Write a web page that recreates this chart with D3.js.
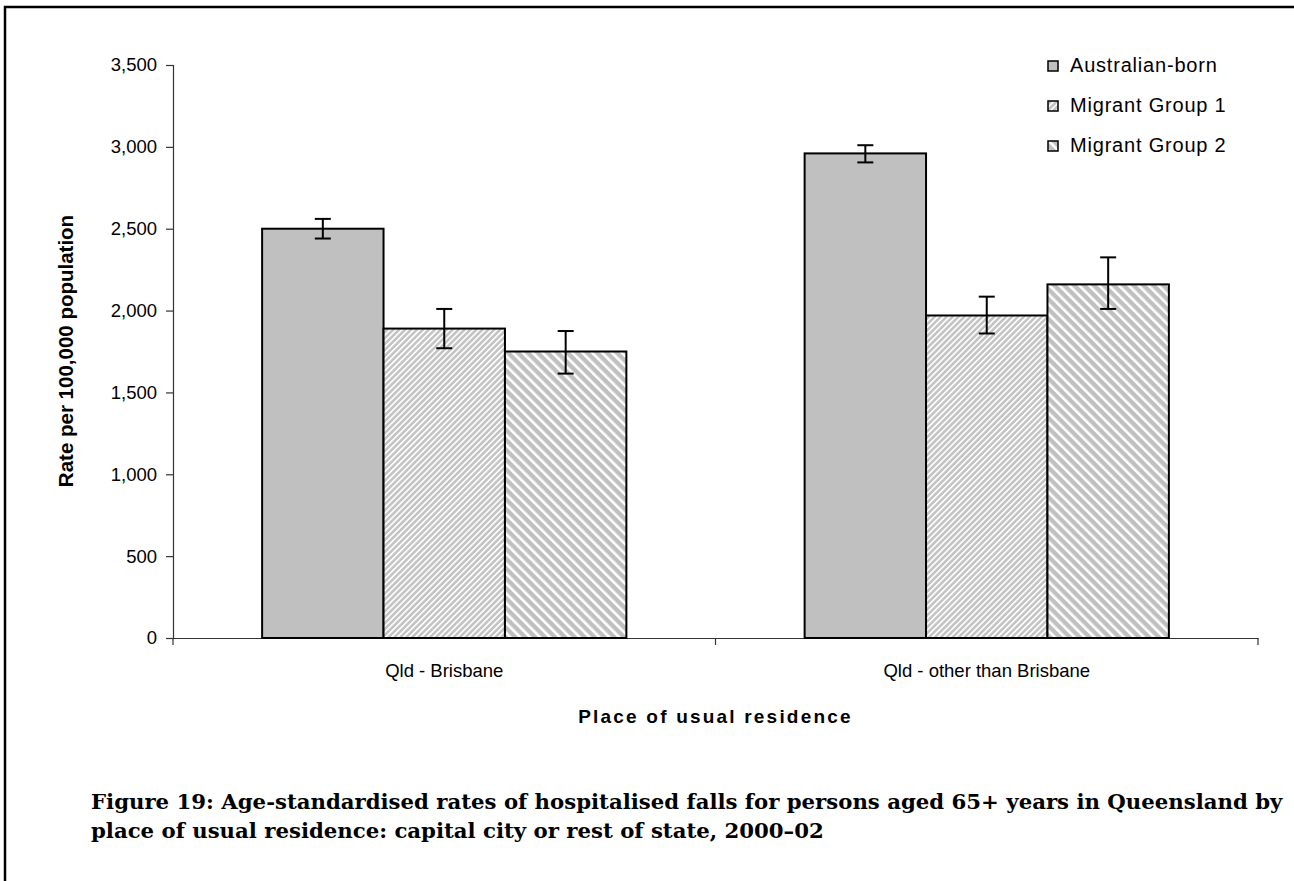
<!DOCTYPE html>
<html>
<head>
<meta charset="utf-8">
<script src="https://cdn.jsdelivr.net/npm/d3@7"></script>
<style>
  html, body { margin: 0; padding: 0; background: #fff; }
  svg { display: block; }
</style>
</head>
<body>
<svg id="chart" width="1294" height="881"></svg>
<script>
// Places of usual residence (x categories)
const categories = ["Qld - Brisbane", "Qld - other than Brisbane"];
// Population groups (series)
const seriesNames = ["Australian-born", "Migrant Group 1", "Migrant Group 2"];

// Age-standardised rates per 100,000 with 95% confidence limits
const australianBorn      = [2500, 2960];
const australianBornLow   = [2440, 2905];
const australianBornHigh  = [2560, 3010];

const migrantGroup1       = [1890, 1970];
const migrantGroup1Low    = [1770, 1860];
const migrantGroup1High   = [2010, 2085];

const migrantGroup2       = [1750, 2160];
const migrantGroup2Low    = [1615, 2010];
const migrantGroup2High   = [1875, 2325];

const yTicks = [0, 500, 1000, 1500, 2000, 2500, 3000, 3500];

const captionLines = [
  "Figure 19: Age-standardised rates of hospitalised falls for persons aged 65+ years in Queensland by",
  "place of usual residence: capital city or rest of state, 2000\u201302"
];

const series = [
  { name: seriesNames[0], values: australianBorn, low: australianBornLow, high: australianBornHigh, fill: "#c0c0c0" },
  { name: seriesNames[1], values: migrantGroup1, low: migrantGroup1Low, high: migrantGroup1High, fill: "url(#hatchUp)" },
  { name: seriesNames[2], values: migrantGroup2, low: migrantGroup2Low, high: migrantGroup2High, fill: "url(#hatchDown)" }
];

const svg = d3.select("#chart");
const sans = "'Liberation Sans', Arial, sans-serif";

// Hatch fills
const defs = svg.append("defs");
function hatch(id, period, white, angle, grey) {
  const p = defs.append("pattern")
    .attr("id", id)
    .attr("patternUnits", "userSpaceOnUse")
    .attr("width", period).attr("height", period)
    .attr("patternTransform", `rotate(${angle})`);
  p.append("rect").attr("width", period).attr("height", period).attr("fill", grey);
  p.append("rect").attr("x", 0).attr("y", 0).attr("width", white).attr("height", period).attr("fill", "#ffffff");
}
hatch("hatchUp", 4.2, 1.6, 45, "#c4c4c4");
hatch("hatchDown", 7.0, 2.6, -45, "#c0c0c0");

// Plot area
const plot = { left: 173, right: 1258, top: 65, bottom: 638 };

const y = d3.scaleLinear().domain([0, 3500]).range([plot.bottom, plot.top]);
const x0 = d3.scaleBand().domain(categories).range([plot.left, plot.right]).padding(0);
const x1 = d3.scaleBand().domain(seriesNames).range([0, x0.bandwidth()])
  .paddingInner(0).paddingOuter(0.734);

// Frame around the figure
svg.append("path")
  .attr("d", `M5,${881} L5,7 L1294,7`)
  .attr("fill", "none").attr("stroke", "#000").attr("stroke-width", 2.5);

// Y axis
const yAxis = svg.append("g")
  .attr("transform", `translate(${plot.left},0)`)
  .call(d3.axisLeft(y).tickValues(yTicks).tickSize(7).tickPadding(9)
    .tickFormat(d3.format(",")));
yAxis.select(".domain").attr("stroke", "#333").attr("stroke-width", 1.2);
yAxis.selectAll(".tick line").attr("stroke", "#333").attr("stroke-width", 1.2);
yAxis.selectAll(".tick text").attr("font-family", sans).attr("font-size", 18.5).attr("fill", "#000");

// X axis (tick marks at category boundaries)
const xAxis = svg.append("g")
  .attr("transform", `translate(0,${plot.bottom})`)
  .call(d3.axisBottom(x0).tickSize(0).tickPadding(26));
xAxis.select(".domain").attr("stroke", "#333").attr("stroke-width", 1.2);
xAxis.selectAll(".tick text").attr("font-family", sans).attr("font-size", 18.5).attr("fill", "#000");
const boundaries = [plot.left, ...categories.map(c => x0(c) + x0.bandwidth())];
xAxis.selectAll("line.bound").data(boundaries).join("line")
  .attr("class", "bound")
  .attr("x1", d => d).attr("x2", d => d)
  .attr("y1", 0).attr("y2", 7)
  .attr("stroke", "#333").attr("stroke-width", 1.2);

// Bars
const groups = svg.append("g").selectAll("g")
  .data(series).join("g");

groups.selectAll("rect")
  .data(s => s.values.map((v, i) => ({ s, v, cat: categories[i], i })))
  .join("rect")
  .attr("x", d => x0(d.cat) + x1(d.s.name))
  .attr("y", d => y(d.v))
  .attr("width", x1.bandwidth())
  .attr("height", d => y(0) - y(d.v))
  .attr("fill", d => d.s.fill)
  .attr("stroke", "#000")
  .attr("stroke-width", 2);

// Error bars
const capHalf = 8;
const err = svg.append("g").attr("stroke", "#000").attr("stroke-width", 2);
series.forEach(s => {
  s.values.forEach((v, i) => {
    const cx = x0(categories[i]) + x1(s.name) + x1.bandwidth() / 2;
    const lo = y(s.low[i]), hi = y(s.high[i]);
    err.append("line").attr("x1", cx).attr("x2", cx).attr("y1", lo).attr("y2", hi);
    err.append("line").attr("x1", cx - capHalf).attr("x2", cx + capHalf).attr("y1", lo).attr("y2", lo);
    err.append("line").attr("x1", cx - capHalf).attr("x2", cx + capHalf).attr("y1", hi).attr("y2", hi);
  });
});

// Axis titles
svg.append("text")
  .attr("transform", `translate(73,351) rotate(-90)`)
  .attr("text-anchor", "middle")
  .attr("font-family", sans).attr("font-weight", "bold").attr("font-size", 20.5)
  .text("Rate per 100,000 population");

svg.append("text")
  .attr("x", (plot.left + plot.right) / 2)
  .attr("y", 723)
  .attr("text-anchor", "middle")
  .attr("font-family", sans).attr("font-weight", "bold").attr("font-size", 19)
  .attr("letter-spacing", 2.2)
  .text("Place of usual residence");

// Legend
const legend = svg.append("g").attr("transform", "translate(1048,72)");
const rows = legend.selectAll("g").data(series).join("g")
  .attr("transform", (d, i) => `translate(0,${i * 40})`);
rows.append("rect")
  .attr("x", 0).attr("y", -11).attr("width", 10).attr("height", 10)
  .attr("fill", d => d.fill).attr("stroke", "#000").attr("stroke-width", 1.5);
rows.append("text")
  .attr("x", 22).attr("y", 0)
  .attr("font-family", sans).attr("font-size", 20)
  .attr("letter-spacing", 0.8)
  .text(d => d.name);

// Caption: font size chosen so the first line spans the text width
const serif = "'DejaVu Serif', 'Liberation Serif', serif";
const cap = svg.append("g").attr("font-family", serif).attr("font-weight", "bold");
const capLeft = 91, line1Width = 1192;
const t1 = cap.append("text").attr("x", capLeft).attr("y", 809).attr("font-size", 20).text(captionLines[0]);
const fs = Math.min(22, 20 * line1Width / t1.node().getComputedTextLength());
t1.attr("font-size", fs);
cap.append("text").attr("x", capLeft).attr("y", 838).attr("font-size", fs).text(captionLines[1]);
</script>
</body>
</html>
